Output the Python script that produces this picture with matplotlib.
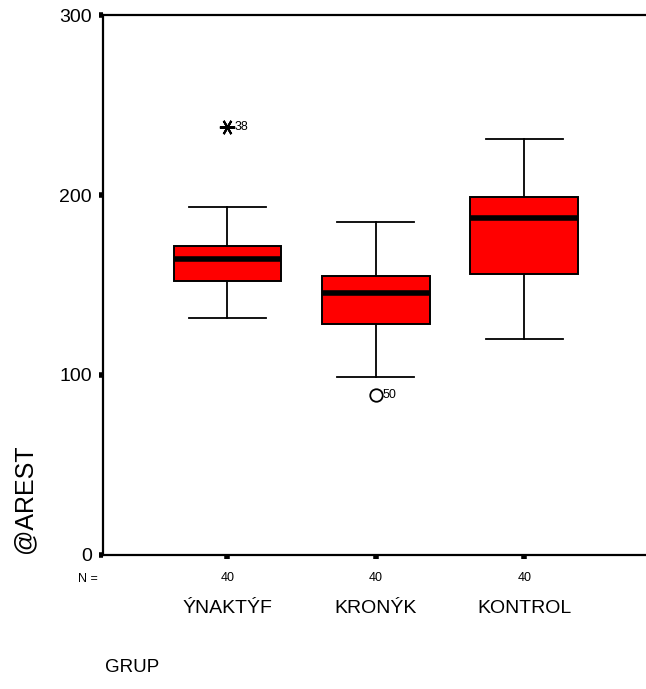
import matplotlib
matplotlib.use("Agg")
import matplotlib.pyplot as plt

plt.rcParams['font.family'] = ['Liberation Sans', 'DejaVu Sans']

# group data
groups = ["ÝNAKTÝF", "KRONÝK", "KONTROL"]
counts = [40, 40, 40]
whisker_low = [131.7, 98.9, 120.0]
q1 = [152.2, 128.3, 156.0]
medians = [164.2, 145.6, 187.2]
q3 = [171.7, 155.0, 198.9]
whisker_high = [193.3, 185.0, 231.0]

# outliers: group position, value, case id
outlier_group = [1, 2]
outlier_value = [237.8, 88.9]
outlier_case = ["38", "50"]
outlier_marker = [(6, 2, 90), "o"]

yticks = [0, 100, 200, 300]

fig = plt.figure(figsize=(6.46, 6.89), dpi=100)
ax = fig.add_axes([0.1594, 0.1945, 0.86, 0.7837])

stats = []
for i in range(len(groups)):
    stats.append({
        "label": groups[i],
        "whislo": whisker_low[i],
        "q1": q1[i],
        "med": medians[i],
        "q3": q3[i],
        "whishi": whisker_high[i],
        "fliers": [],
    })

positions = list(range(1, len(groups) + 1))
ax.bxp(stats, positions=positions, widths=0.725, patch_artist=True,
       showfliers=False,
       boxprops=dict(facecolor="#ff0000", edgecolor="black", linewidth=1.4),
       medianprops=dict(color="black", linewidth=4, solid_capstyle="butt"),
       whiskerprops=dict(color="black", linewidth=1.3),
       capprops=dict(color="black", linewidth=1.3),
       capwidths=0.52)

for g, v, c, m in zip(outlier_group, outlier_value, outlier_case, outlier_marker):
    if m == "o":
        ax.plot(g, v, marker="o", markersize=9, markerfacecolor="white",
                markeredgecolor="black", markeredgewidth=1.3, linestyle="none",
                zorder=5)
    else:
        ax.plot(g, v, marker=m, markersize=11, color="black",
                markeredgewidth=1.5, linestyle="none", zorder=5)
    ax.text(g + 0.045, v, c, fontsize=9, va="center", ha="left")

ax.set_xlim(0.161, 3.905)
ax.set_ylim(0, 300)
ax.set_yticks(yticks)
ax.set_yticklabels([str(t) for t in yticks], fontsize=14)
ax.set_xticks(positions)
ax.set_xticklabels([str(n) for n in counts], fontsize=9)

ax.tick_params(axis="both", direction="out", length=3, width=4, color="black")
ax.tick_params(axis="x", pad=9)
ax.tick_params(axis="y", pad=5)

for side in ["left", "bottom", "top", "right"]:
    ax.spines[side].set_linewidth(1.6)
    ax.spines[side].set_color("black")

# N = label and group names below the axis
ax.text(-0.01, -0.045, "N =", transform=ax.transAxes, fontsize=9,
        ha="right", va="center")
for p, name in zip(positions, groups):
    ax.text(p, -30, name, fontsize=14, ha="center", va="center",
            clip_on=False)

ax.set_ylabel("@AREST", fontsize=18)
ax.yaxis.set_label_coords(-0.12, 0.105)
fig.text(0.163, 0.019, "GRUP", fontsize=13.5, ha="left", va="bottom")

fig.savefig("out.png", dpi=100)
